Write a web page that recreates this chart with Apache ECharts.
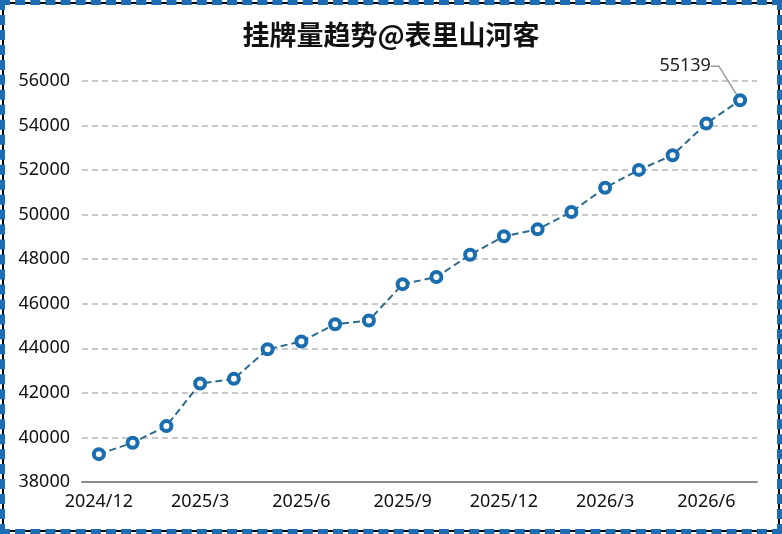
<!DOCTYPE html>
<html>
<head>
<meta charset="utf-8">
<script src="https://cdn.jsdelivr.net/npm/echarts@6/dist/echarts.min.js"></script>
<style>
  html, body { margin: 0; padding: 0; background: #fff; }
  #wrap { position: relative; width: 782px; height: 534px; overflow: hidden; }
  #chart { position: absolute; left: 0; top: 0; width: 782px; height: 534px; }
  #frameBlack { position: absolute; left: 2px; top: 2px; right: 2px; bottom: 2px; border: 2px solid #000; pointer-events: none; }
  #frameBlue { position: absolute; left: 0; top: 0; right: 0; bottom: 0; border: 5px dashed #1c6db4; pointer-events: none; }
</style>
</head>
<body>
<div id="wrap">
  <div id="chart"></div>
  <div id="frameBlack"></div>
  <div id="frameBlue"></div>
</div>
<script>
const titleText = '挂牌量趋势@表里山河客';
const months = ['2024/12','2025/1','2025/2','2025/3','2025/4','2025/5','2025/6','2025/7','2025/8','2025/9',
                '2025/10','2025/11','2025/12','2026/1','2026/2','2026/3','2026/4','2026/5','2026/6','2026/7'];
const listings = [39250, 39760, 40510, 42420, 42630, 43960, 44310, 45080, 45250, 46880,
                  47200, 48200, 49030, 49340, 50120, 51210, 52010, 52670, 54090, 55139];
const yMin = 38000, yMax = 56000, yStep = 2000;

const seriesData = listings.map((v, i) => i === listings.length - 1
  ? { value: v, label: { show: true }, labelLine: { show: true } }
  : v);

const chart = echarts.init(document.getElementById('chart'));
chart.setOption({
  backgroundColor: '#ffffff',
  animation: false,
  title: {
    text: titleText,
    left: 'center',
    top: 16,
    textStyle: { fontSize: 27, fontWeight: 'bold', color: '#111', fontFamily: 'Noto Sans CJK SC' }
  },
  grid: { left: 82, right: 25, top: 81, bottom: 52, containLabel: false },
  xAxis: {
    type: 'category',
    data: months,
    boundaryGap: true,
    axisLine: { lineStyle: { color: '#8c8c8c', width: 2 } },
    axisTick: { interval: 2, length: 6, lineStyle: { color: '#8c8c8c', width: 2 } },
    axisLabel: { interval: 2, color: '#111', fontSize: 18, margin: 11, fontFamily: 'Noto Sans' }
  },
  yAxis: {
    type: 'value',
    min: yMin, max: yMax, interval: yStep,
    axisLine: { show: false },
    axisTick: { show: false },
    axisLabel: { color: '#111', fontSize: 18, margin: 12, fontFamily: 'Noto Sans', formatter: v => String(v) },
    splitLine: { lineStyle: { color: '#b8b8b8', type: [6, 4], width: 1.5 } }
  },
  series: [{
    type: 'line',
    data: seriesData,
    symbol: 'circle',
    symbolSize: 10,
    lineStyle: { color: '#2d6b8c', width: 2, type: [7, 4] },
    itemStyle: { color: '#ffffff', borderColor: '#1a6eb0', borderWidth: 4 },
    label: {
      show: false,
      position: 'top',
      color: '#222',
      fontSize: 18,
      fontFamily: 'Noto Sans',
      formatter: '{c}'
    },
    labelLine: { show: false, lineStyle: { color: '#999', width: 1.5 }, length2: 8 },
    labelLayout: { dx: -55, dy: -13 }
  }]
});
</script>
</body>
</html>
